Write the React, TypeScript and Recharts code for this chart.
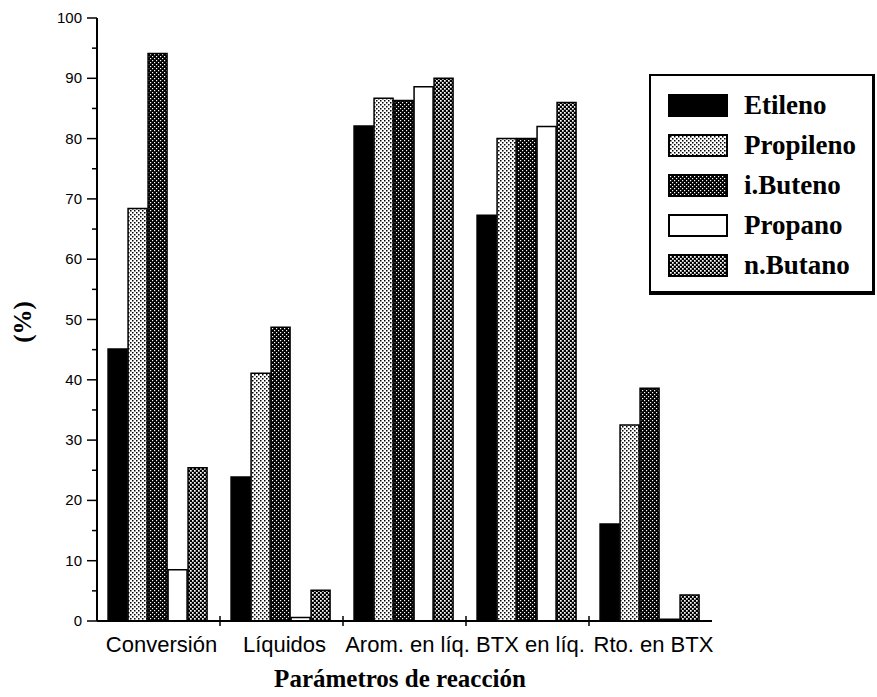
import { Bar, BarChart, Legend, XAxis, YAxis } from "recharts";

const categories = ["Conversión", "Líquidos", "Arom. en líq.", "BTX en líq.", "Rto. en BTX"];
const etileno = [45.1, 23.9, 82.1, 67.3, 16.1];
const propileno = [68.4, 41.1, 86.7, 80.0, 32.5];
const iButeno = [94.1, 48.7, 86.3, 80.0, 38.6];
const propano = [8.5, 0.6, 88.6, 82.0, 0.3];
const nButano = [25.4, 5.1, 90.0, 86.0, 4.3];
const yTicks = [0, 5, 10, 15, 20, 25, 30, 35, 40, 45, 50, 55, 60, 65, 70, 75, 80, 85, 90, 95, 100];

const data = categories.map((name, i) => ({
  name,
  etileno: etileno[i],
  propileno: propileno[i],
  iButeno: iButeno[i],
  propano: propano[i],
  nButano: nButano[i],
}));

const series = [
  { key: "etileno", name: "Etileno", fill: "#000" },
  { key: "propileno", name: "Propileno", fill: "url(#pat-prop)" },
  { key: "iButeno", name: "i.Buteno", fill: "url(#pat-ibut)" },
  { key: "propano", name: "Propano", fill: "#fff" },
  { key: "nButano", name: "n.Butano", fill: "url(#pat-nbut)" },
];

const W = 877;
const H = 697;
const LEFT = 97;
const RIGHT = 712;
const TOP = 18;
const BOTTOM = 621;
const BAND = (RIGHT - LEFT) / categories.length;
const SANS = '"Liberation Sans", Arial, sans-serif';
const SERIF = '"Liberation Serif", "Times New Roman", serif';

// y ticks every 5, labels only on the tens
function YTick(props: any) {
  const { y, payload } = props;
  const v = payload.value as number;
  const major = v % 10 === 0;
  return (
    <g>
      <line x1={major ? LEFT - 10 : LEFT - 5} x2={LEFT} y1={y} y2={y} stroke="#000" strokeWidth={1.5} />
      {major && (
        <text x={LEFT - 15} y={y} dy={5} textAnchor="end" fontFamily={SANS} fontSize={15} fill="#000">
          {v}
        </text>
      )}
    </g>
  );
}

// category label at the centre, tick mark at the left edge of each band
function XTick(props: any) {
  const { x, y, payload, index } = props;
  const edge = x - BAND / 2;
  return (
    <g>
      {index > 0 && (
        <line x1={edge} x2={edge} y1={BOTTOM - 5} y2={BOTTOM + 5} stroke="#000" strokeWidth={1.5} />
      )}
      <text x={x + 3} y={y} dy={23} textAnchor="middle" fontFamily={SANS} fontSize={22} fill="#000">
        {payload.value}
      </text>
    </g>
  );
}

const renderLegend = () => (
  <div
    style={{
      width: 226,
      height: 221,
      boxSizing: "border-box",
      background: "#fff",
      borderTop: "2px solid #000",
      borderLeft: "2px solid #000",
      borderRight: "3px solid #000",
      borderBottom: "4px solid #000",
      paddingTop: 9,
      paddingLeft: 17,
    }}
  >
    {series.map((s) => (
      <div key={s.key} style={{ display: "flex", alignItems: "center", height: 40 }}>
        <svg width={60} height={23} style={{ display: "block" }}>
          <rect x={1} y={1} width={58} height={21} fill={s.fill} stroke="#000" strokeWidth={2} />
        </svg>
        <span style={{ marginLeft: 16, fontFamily: SERIF, fontWeight: "bold", fontSize: 27, color: "#000", lineHeight: 1 }}>
          {s.name}
        </span>
      </div>
    ))}
  </div>
);

export default function App() {
  return (
    <div style={{ position: "absolute", left: 0, top: 0, width: W, height: H, background: "#fff" }}>
      <BarChart
        width={W}
        height={H}
        data={data}
        margin={{ top: TOP, right: W - RIGHT, bottom: H - BOTTOM - 40, left: 0 }}
        barCategoryGap="9%"
        barGap={1}
      >
        <defs>
          <pattern id="pat-prop" width={4} height={4} patternUnits="userSpaceOnUse">
            <rect width={4} height={4} fill="#fff" />
            <rect x={0} y={0} width={1.5} height={1.5} fill="#000" />
            <rect x={2} y={2} width={1.5} height={1.5} fill="#000" />
          </pattern>
          <pattern id="pat-ibut" width={4} height={4} patternUnits="userSpaceOnUse">
            <rect width={4} height={4} fill="#000" />
            <rect x={0} y={0} width={1.2} height={1.2} fill="#fff" />
            <rect x={2} y={2} width={1.2} height={1.2} fill="#fff" />
          </pattern>
          <pattern id="pat-nbut" width={4} height={4} patternUnits="userSpaceOnUse">
            <rect width={4} height={4} fill="#000" />
            <rect x={0} y={0} width={1.7} height={1.7} fill="#fff" />
            <rect x={2} y={2} width={1.7} height={1.7} fill="#fff" />
          </pattern>
        </defs>
        <XAxis
          dataKey="name"
          height={40}
          axisLine={{ stroke: "#000", strokeWidth: 2 }}
          tickLine={false}
          tick={<XTick />}
          interval={0}
        />
        <XAxis xAxisId="top" orientation="top" dataKey="name" height={0} tick={false} tickLine={false} axisLine={{ stroke: "#000", strokeWidth: 2 }} />
        <YAxis
          width={LEFT}
          domain={[0, 100]}
          ticks={yTicks}
          interval={0}
          axisLine={{ stroke: "#000", strokeWidth: 2 }}
          tickLine={false}
          tick={<YTick />}
        />
        <YAxis yAxisId="right" orientation="right" width={0} domain={[0, 100]} tick={false} tickLine={false} axisLine={{ stroke: "#000", strokeWidth: 2 }} />
        {series.map((s) => (
          <Bar
            key={s.key}
            dataKey={s.key}
            name={s.name}
            fill={s.fill}
            stroke="#000"
            strokeWidth={1.5}
            isAnimationActive={false}
          />
        ))}
        <Legend
          layout="vertical"
          align="center"
          verticalAlign="middle"
          content={renderLegend}
          wrapperStyle={{ left: 649, top: 74, width: 226, height: 221 }}
        />
        <text
          x={22}
          y={322}
          transform="rotate(-90 22 322)"
          textAnchor="middle"
          dominantBaseline="central"
          fontFamily={SERIF}
          fontWeight="bold"
          fontSize={25}
          fill="#000"
        >
          (%)
        </text>
        <text x={400} y={687} textAnchor="middle" fontFamily={SERIF} fontWeight="bold" fontSize={25} fill="#000">
          Parámetros de reacción
        </text>
      </BarChart>
    </div>
  );
}
